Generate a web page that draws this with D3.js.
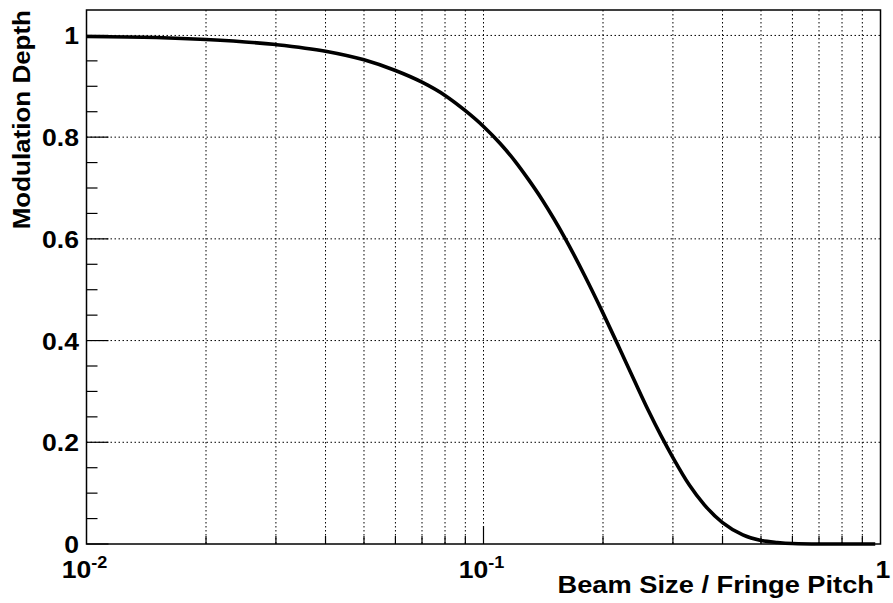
<!DOCTYPE html>
<html><head><meta charset="utf-8">
<script src="https://cdn.jsdelivr.net/npm/d3@7"></script>
<style>
body{margin:0;background:#fff}
text{font-family:"Liberation Sans",Arial,Helvetica,sans-serif;font-weight:bold;fill:#000}
</style>
</head><body>
<svg id="chart" width="893" height="603"></svg>
<script>
// ---- data ----
const beamSize = [0.01,0.015,0.02,0.03,0.04,0.05,0.06,0.07,0.08,0.09,0.1,0.11,0.12,0.13,0.14,0.15,0.16,0.18,0.2,0.22,0.24,0.26,0.28,0.3,0.33,0.36,0.4,0.45,0.5,0.55,0.6,0.7,0.8,0.97];
const modulationDepth = [0.998,0.996,0.992,0.982,0.969,0.952,0.931,0.908,0.882,0.852,0.821,0.788,0.753,0.716,0.679,0.641,0.603,0.527,0.454,0.385,0.321,0.263,0.213,0.170,0.116,0.077,0.042,0.018,0.007,0.003,0.001,0.0001,0,0];
const yTickValues = [0,0.2,0.4,0.6,0.8,1];
const yTickLabels = ["0","0.2","0.4","0.6","0.8","1"];
const xMajorValues = [0.01,0.1,1];
const xMajorBase = ["10","10","1"];
const xMajorExp = ["-2","-1",""];
const xTitle = "Beam Size / Fringe Pitch";
const yTitle = "Modulation Depth";

// ---- layout ----
const L = 86.5, R = 880.5, T = 10, B = 544;
const svg = d3.select("#chart");
const x = d3.scaleLog().domain([0.01, 1]).range([L, R]);
const y = d3.scaleLinear().domain([0, 1.05]).range([B, T]);
const SX = 1.13; // horizontal glyph stretch seen in the reference

// minor log ticks
const xMinor = [];
[0.01, 0.1].forEach(d => { for (let k = 2; k <= 9; k++) xMinor.push(+(d * k).toFixed(3)); });
const xGrid = xMinor.concat([0.1]);

// grid
svg.append("g").selectAll("line").data(xGrid).join("line")
  .attr("x1", d => x(d)).attr("x2", d => x(d)).attr("y1", T).attr("y2", B)
  .attr("stroke", "#000").attr("stroke-width", 1).attr("stroke-dasharray", "1.5,2.5");
svg.append("g").selectAll("line").data(yTickValues.filter(v => v > 0)).join("line")
  .attr("x1", L).attr("x2", R).attr("y1", d => y(d)).attr("y2", d => y(d))
  .attr("stroke", "#000").attr("stroke-width", 1).attr("stroke-dasharray", "1.5,2.5");

// y ticks
const yAll = d3.range(0, 21).map(i => +(i * 0.05).toFixed(2));
svg.append("g").selectAll("line").data(yAll).join("line")
  .attr("x1", L).attr("x2", d => L + (Math.abs(d / 0.2 - Math.round(d / 0.2)) < 1e-6 ? 22 : 11))
  .attr("y1", d => y(d)).attr("y2", d => y(d))
  .attr("stroke", "#000").attr("stroke-width", 1.2);

// x ticks
svg.append("g").selectAll("line").data(xMinor.concat([0.1])).join("line")
  .attr("x1", d => x(d)).attr("x2", d => x(d))
  .attr("y1", B).attr("y2", d => B - (d === 0.1 ? 18 : 8))
  .attr("stroke", "#000").attr("stroke-width", 1.2);

// curve
const pts = beamSize.map((b, i) => [b, modulationDepth[i]]);
svg.append("path").datum(pts)
  .attr("d", d3.line().x(d => x(d[0])).y(d => y(d[1])).curve(d3.curveMonotoneX))
  .attr("fill", "none").attr("stroke", "#000").attr("stroke-width", 3.6)
  .attr("stroke-linejoin", "round");

// frame
svg.append("rect").attr("x", L).attr("y", T).attr("width", R - L).attr("height", B - T)
  .attr("fill", "none").attr("stroke", "#000").attr("stroke-width", 1.5);

// y tick labels
yTickValues.forEach((v, i) => {
  svg.append("g").attr("transform", `translate(79,${y(v) + 9}) scale(${SX},1)`)
    .append("text").attr("text-anchor", "end").attr("font-size", 23.5).text(yTickLabels[i]);
});

// x tick labels
xMajorValues.forEach((v, i) => {
  const off = i === 2 ? 2.5 : -2;
  const t = svg.append("g").attr("transform", `translate(${x(v) + off},578) scale(${SX},1)`)
    .append("text").attr("text-anchor", "middle").attr("font-size", 23.5);
  t.append("tspan").text(xMajorBase[i]);
  if (xMajorExp[i]) t.append("tspan").attr("font-size", 16).attr("dy", -10).text(xMajorExp[i]);
});

// titles
svg.append("g").attr("transform", `translate(874,593) scale(1.16,1)`)
  .append("text").attr("text-anchor", "end").attr("font-size", 23.5).text(xTitle);
svg.append("g").attr("transform", `translate(30,10) rotate(-90) scale(${SX},1)`)
  .append("text").attr("text-anchor", "end").attr("font-size", 23).text(yTitle);
</script>
</body></html>
